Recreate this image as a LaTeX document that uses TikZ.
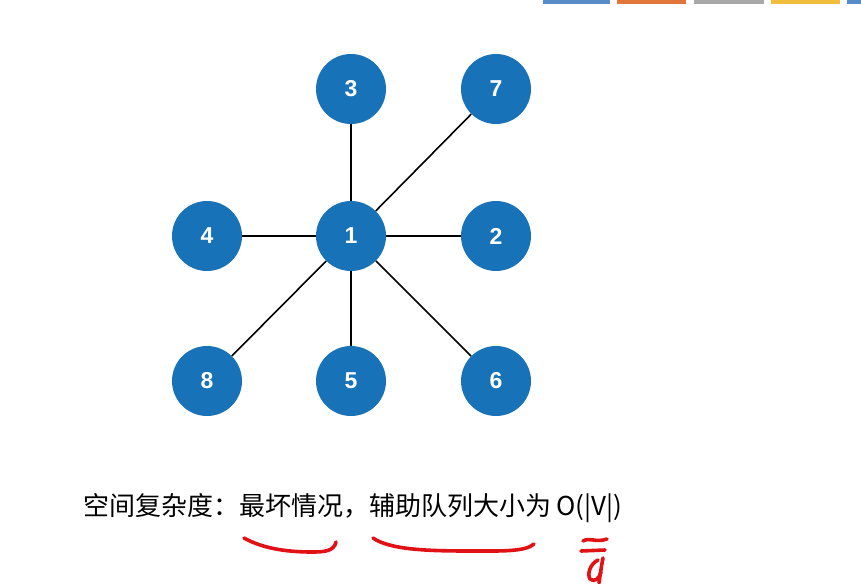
\documentclass[tikz,border=0pt]{standalone}
\usepackage{fontspec}
\setmainfont{Liberation Sans}
\newfontfamily\cjk{Noto Sans CJK SC}
\begin{document}
\begin{tikzpicture}[x=1pt,y=-1pt]
\definecolor{nodeblue}{RGB}{24,114,184}
\definecolor{inkred}{RGB}{225,18,22}
\definecolor{barblue}{RGB}{86,140,200}
\definecolor{barorange}{RGB}{226,118,58}
\definecolor{bargray}{RGB}{168,168,168}
\definecolor{baryellow}{RGB}{240,190,60}
\tikzset{
  vertex/.style={circle, fill=nodeblue, minimum size=70pt, inner sep=0pt,
    text=white, font=\bfseries\fontsize{23}{23}\selectfont},
  edge/.style={line width=1.6pt, black},
  ink/.style={inkred, line width=3.6pt, line cap=round, line join=round}
}
\useasboundingbox (0,0) rectangle (861,583);
\fill[white] (0,0) rectangle (861,583);

% toolbar strips along the top edge
\fill[barblue]   (543,0) rectangle (610,4);
\fill[barorange] (617,0) rectangle (686,4);
\fill[bargray]   (694,0) rectangle (764,4);
\fill[baryellow] (771,0) rectangle (840,4);
\fill[barblue]   (847,0) rectangle (861,4);

% graph vertices
\node[vertex] (n3) at (351,89)  {3};
\node[vertex] (n7) at (496,89)  {7};
\node[vertex] (n4) at (207,236) {4};
\node[vertex] (n1) at (351,236) {1};
\node[vertex] (n2) at (496,236) {2};
\node[vertex] (n8) at (207,381) {8};
\node[vertex] (n5) at (351,381) {5};
\node[vertex] (n6) at (496,381) {6};

% edges from the hub
\foreach \t in {n3,n7,n4,n2,n8,n5,n6}
  \draw[edge] (n1) -- (\t);

% caption
\node[anchor=west, inner sep=0pt, font=\cjk\fontsize{26}{26}\selectfont] (cap) at (83,508)
  {空间复杂度：最坏情况，辅助队列大小为\hspace{5pt}O(|V|)};

% hand-drawn red marks under the caption
\draw[ink] (244,538) .. controls (262,548) and (285,552) .. (312,552)
  .. controls (325,552) and (334,551) .. (336,542);
\draw[ink] (373,538) .. controls (390,550) and (430,551) .. (470,551)
  .. controls (500,551) and (525,552) .. (534,544);
\draw[ink] (583,541) .. controls (590,537) and (596,543) .. (607,539);
\draw[ink] (581,551) -- (605,550);
\draw[ink] (603,558) .. controls (601,568) and (600,576) .. (599,583);
\draw[ink] (598,560) .. controls (590,564) and (587,574) .. (590,579)
  .. controls (594,583) and (600,578) .. (601,572);
\end{tikzpicture}
\end{document}
